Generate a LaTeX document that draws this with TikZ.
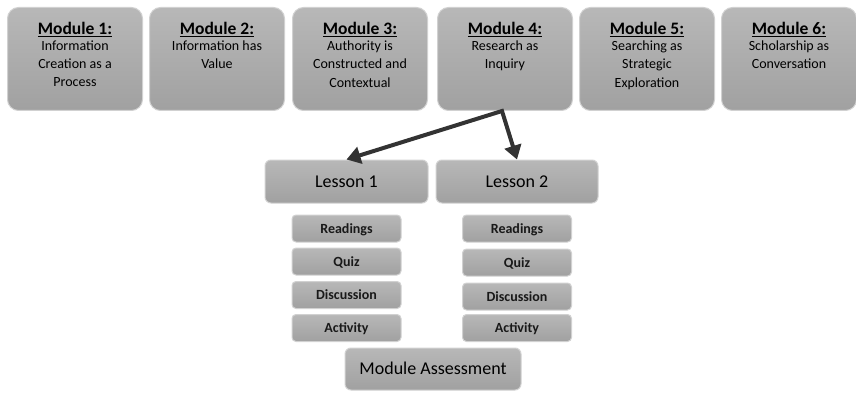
\documentclass[tikz,border=0pt]{standalone}
\usepackage{fontspec}
\setmainfont{Carlito}
\usetikzlibrary{arrows.meta}

\tikzset{
  box/.style={draw=black!18,line width=1pt,rounded corners=11pt,
    top color=black!28,bottom color=black!37},
  small box/.style={box,rounded corners=4pt,minimum width=109pt,minimum height=27pt,
    font=\fontsize{14}{16}\selectfont\bfseries,text=black!90,text height=9pt,text depth=0pt},
  lesson/.style={box,rounded corners=6pt,minimum height=43pt,
    font=\fontsize{18}{20}\selectfont,text=black,text height=11.6pt,text depth=0pt},
  title/.style={anchor=base,inner sep=0pt,font=\fontsize{17.5}{20}\selectfont\bfseries},
  body/.style={anchor=north,inner sep=0pt,align=center,text=black,
    font=\fontsize{14}{18.3}\selectfont},
  flow/.style={line width=4pt,black!80,line join=miter,
    {Triangle[length=14pt,width=17pt]}-{Triangle[length=14pt,width=17pt]}}
}

\begin{document}
\begin{tikzpicture}[x=1pt,y=-1pt]
\useasboundingbox (0,0) rectangle (856,393);
% modules
\draw
    (75,7) node [box,below,minimum width=135pt,minimum height=103pt] (m1) {}
    +(0,27.3) node [title] {\underline{Module 1:}}
    +(0,33.5) node [body] {Information\\Creation as a\\Process};
\draw
    (217,7) node [box,below,minimum width=135pt,minimum height=103pt] (m2) {}
    +(0,27.3) node [title] {\underline{Module 2:}}
    +(0,33.5) node [body] {Information has\\Value};
\draw
    (360,7) node [box,below,minimum width=135pt,minimum height=103pt] (m3) {}
    +(0,27.3) node [title] {\underline{Module 3:}}
    +(0,33.5) node [body] {Authority is\\Constructed and\\Contextual};
\draw
    (505,7) node [box,below,minimum width=135pt,minimum height=103pt] (m4) {}
    +(0,27.3) node [title] {\underline{Module 4:}}
    +(0,33.5) node [body] {Research as\\Inquiry};
\draw
    (647,7) node [box,below,minimum width=135pt,minimum height=103pt] (m5) {}
    +(0,27.3) node [title] {\underline{Module 5:}}
    +(0,33.5) node [body] {Searching as\\Strategic\\Exploration};
\draw
    (789,7) node [box,below,minimum width=135pt,minimum height=103pt] (m6) {}
    +(0,27.3) node [title] {\underline{Module 6:}}
    +(0,33.5) node [body] {Scholarship as\\Conversation};
% lessons
\node [lesson,minimum width=163pt] (l1) at (346.5,181.5) {Lesson 1};
\node [lesson,minimum width=162pt] (l2) at (517,181.5) {Lesson 2};
\node [small box] (r1) at (346.5,228.5) {Readings};
\node [small box] (q1) at (346.5,261.5) {Quiz};
\node [small box] (d1) at (346.5,295) {Discussion};
\node [small box] (a1) at (346.5,328) {Activity};
\node [small box] (r2) at (517,228.5) {Readings};
\node [small box] (q2) at (517,262.5) {Quiz};
\node [small box] (d2) at (517,296.5) {Discussion};
\node [small box] (a2) at (517,328) {Activity};
\node [lesson,minimum width=176pt,minimum height=42pt] (ma) at (433,369) {Module Assessment};
\draw [flow] (l1.north) -- ([xshift=-3pt]m4.south) -- (l2.north);
\end{tikzpicture}
\end{document}
